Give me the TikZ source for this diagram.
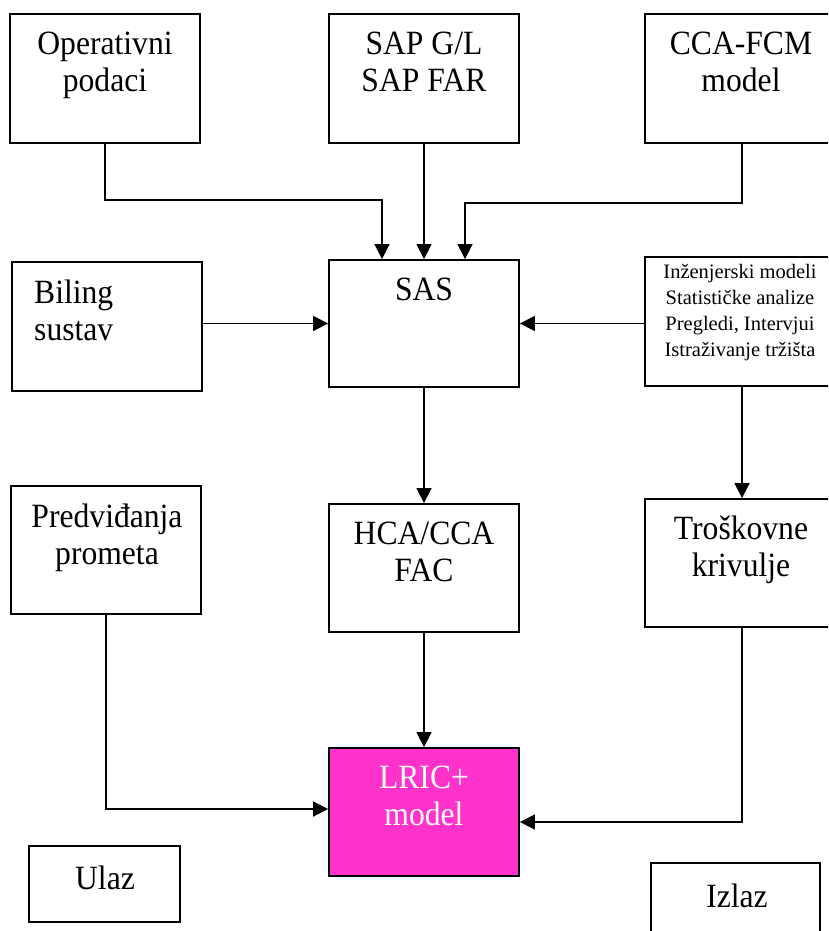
\documentclass[tikz,border=0pt]{standalone}
\usepackage{fontspec}
\setmainfont{Liberation Serif}
\newfontfamily\boxfont{Liberation Serif}[FakeStretch=0.93]
\usepackage{xcolor}
\usetikzlibrary{arrows.meta}
\definecolor{lricpink}{RGB}{255,51,204}

\begin{document}
\begin{tikzpicture}[x=1pt, y=-1pt,
        box/.style={draw, line width=1.8pt, inner sep=0pt, minimum width=190pt, minimum height=129pt},
        txt/.style={anchor=north, inner sep=0pt, align=center, font=\boxfont\fontsize{34}{37}\selectfont},
        smalltxt/.style={anchor=north, inner sep=0pt, align=center, font=\fontsize{20.5}{26}\selectfont},
        arr/.style={line width=1.6pt, -{Triangle[length=15pt, width=15pt]}}]
        \useasboundingbox (0,0) rectangle (828,931);
        \clip (0,0) rectangle (828,931);

        \node [box] (oper) at (105,78.5) {};
        \node [box] (sap) at (424,78.5) {};
        \node [box, minimum width=194pt] (cca) at (742,78.5) {};
        \node [box] (bil) at (107,326.5) {};
        \node [box, minimum height=127pt] (sas) at (424,323.5) {};
        \node [box, minimum width=194pt] (inz) at (742,321.5) {};
        \node [box, minimum height=128pt] (pred) at (106,550) {};
        \node [box, minimum height=128pt] (hca) at (424,568) {};
        \node [box, minimum width=194pt, minimum height=128pt] (tros) at (742,563) {};
        \node [box, minimum height=128pt, fill=lricpink] (lric) at (424,812) {};
        \node [box, minimum width=151pt, minimum height=76pt] (ulaz) at (104.5,884) {};
        \node [box, minimum width=169pt, minimum height=84pt] (izlaz) at (735.5,905) {};

        \node [txt] (operT) at (105,32) {Operativni\\podaci};
        \node [txt] (sapT) at (424,32) {SAP G/L\\SAP FAR};
        \node [txt] (ccaT) at (741,32) {CCA-FCM\\model};
        \node [txt, anchor=north west, align=left] (bilT) at (34,280) {Biling\\sustav};
        \node [txt] (sasT) at (424,278) {SAS};
        \node [smalltxt] (inzT) at (740,264) {In\v{z}enjerski modeli\\Statisti\v{c}ke analize\\Pregledi, Intervjui\\Istra\v{z}ivanje tr\v{z}i\v{s}ta};
        \node [txt] (predT) at (107,504) {Predvi\dj{}anja\\prometa};
        \node [txt] (hcaT) at (424,522) {HCA/CCA\\FAC};
        \node [txt] (trosT) at (741,516) {Tro\v{s}kovne\\krivulje};
        \node [txt, text=white] (lricT) at (424,766) {LRIC+\\model};
        \node [txt] (ulazT) at (105,866) {Ulaz};
        \node [txt] (izlazT) at (737,884) {Izlaz};

        \draw [arr] (oper.south) -- ++(0,56) -| ([xshift=-42pt]sas.north);
        \draw [arr] (sap) -- (sas);
        \draw [arr] (cca.south) -- ++(0,59) -| ([xshift=41pt]sas.north);

        \draw [arr] (bil.east |- sas.west) -- (sas.west);
        \draw [arr] (inz.west |- sas.east) -- (sas.east);

        \draw [arr] (sas) -- (hca);
        \draw [arr] (inz) -- (tros);
        \draw [arr] (hca) -- (lric);

        \draw [arr] (pred.south) |- ([yshift=3pt]lric.west);
        \draw [arr] (tros.south) |- ([yshift=-10pt]lric.east);

    \end{tikzpicture}
\end{document}
